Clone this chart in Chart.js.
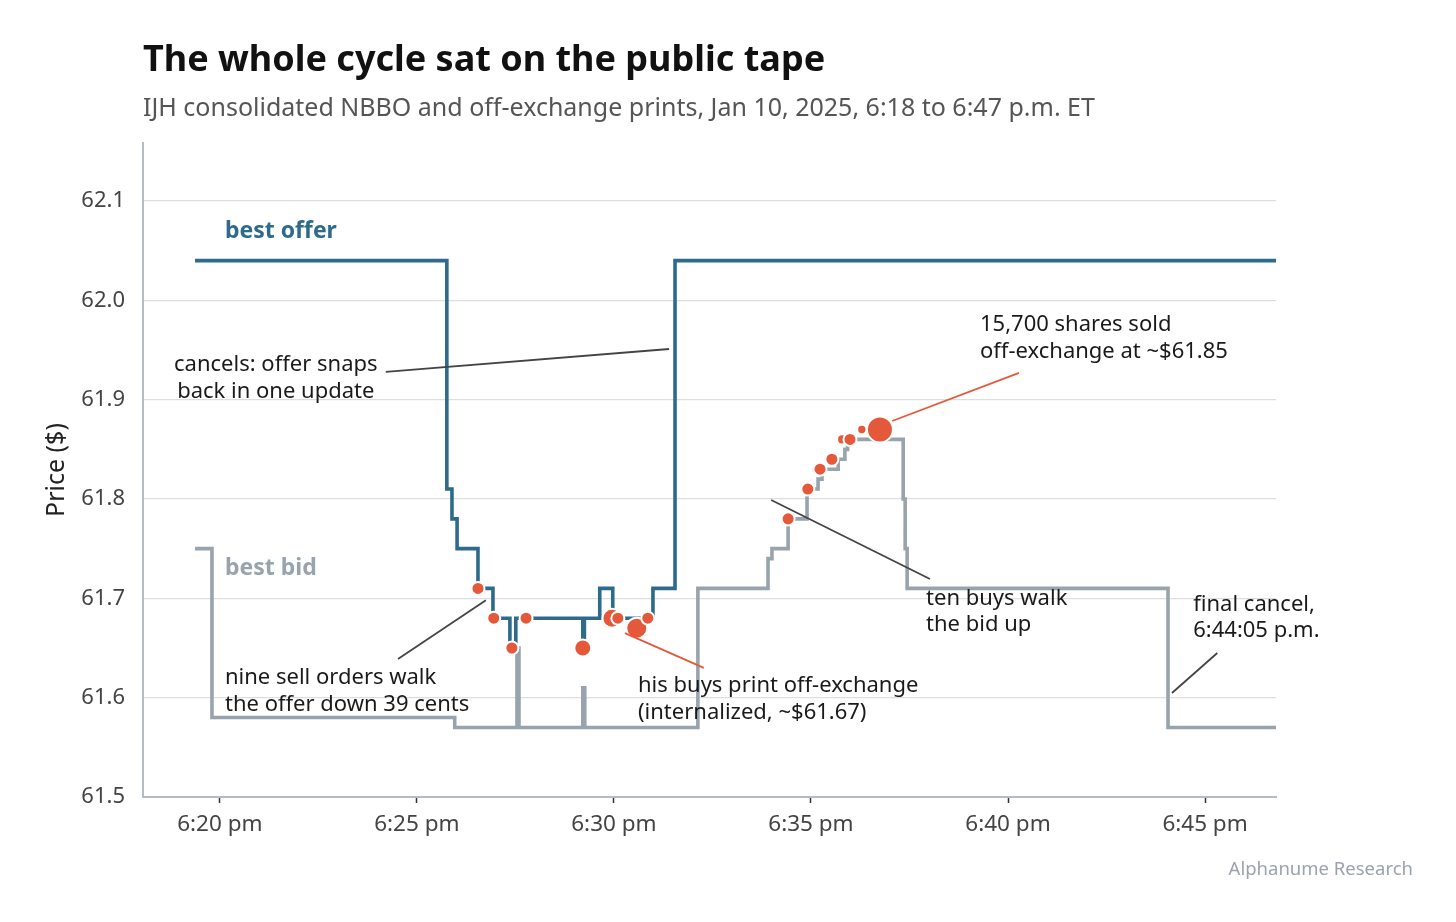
<!DOCTYPE html>
<html>
<head>
<meta charset="utf-8">
<script src="https://cdn.jsdelivr.net/npm/chart.js@4.4.1/dist/chart.umd.min.js"></script>
<style>
  html, body { margin: 0; padding: 0; background: #fff; }
  #wrap { width: 1456px; height: 922px; position: relative; }
</style>
</head>
<body>
<div id="wrap"><canvas id="tape"></canvas></div>
<script>
// time is minutes after 6:00 p.m.

var offerTimes  = [19.37, 25.76, 25.89, 26.02, 26.55, 26.93, 27.36, 27.51, 29.21, 29.25, 29.64, 29.97, 30.99, 31.55, 46.8];
var offerPrices = [62.04, 61.81, 61.78, 61.75, 61.71, 61.68, 61.65, 61.68, 61.655, 61.68, 61.71, 61.68, 61.71, 62.04, 62.04];

var bidTimes  = [19.37, 19.80, 25.96, 27.54, 27.59, 29.21, 29.26, 32.13, 33.91, 34.01, 34.42, 34.90, 35.18, 35.28, 35.69, 35.86, 35.93, 37.34, 37.39, 37.44, 44.06, 46.8];
var bidPrices = [61.75, 61.58, 61.57, 61.65, 61.57, 61.61, 61.57, 61.71, 61.74, 61.75, 61.78, 61.81, 61.82, 61.83, 61.84, 61.85, 61.86, 61.80, 61.75, 61.71, 61.57, 61.57];

var printTimes  = [26.55, 26.95, 27.41, 27.77, 29.21, 29.95, 30.10, 30.58, 30.86, 34.42, 34.92, 35.23, 35.53, 35.79, 35.99, 36.29, 36.75];
var printPrices = [61.71, 61.68, 61.65, 61.68, 61.65, 61.68, 61.68, 61.67, 61.68, 61.78, 61.81, 61.83, 61.84, 61.86, 61.86, 61.87, 61.87];
var printShares = [3000, 3000, 3000, 3000, 5800, 7600, 3000, 9600, 3000, 3000, 3000, 3000, 3000, 1500, 3000, 1200, 15700];

var xTicks = [20, 25, 30, 35, 40, 45];
var yTicks = [61.5, 61.6, 61.7, 61.8, 61.9, 62.0, 62.1];

var OFFER = '#2d6a8b';
var BID = '#98a4ad';
var PRINT = '#e4593a';
var INK = '#1a1a1a';

function pts(xs, ys) {
    return xs.map(function (x, i) { return { x: x, y: ys[i] }; });
}

var notes = [
    { text: ['best offer'], x: 20.13, y: 62.069, align: 'left', color: OFFER, bold: true },
    { text: ['best bid'], x: 20.13, y: 61.7305, align: 'left', color: BID, bold: true },
    { text: ['cancels: offer snaps', 'back in one update'], x: 21.42, y: 61.935, align: 'center', color: INK },
    { text: ['nine sell orders walk', 'the offer down 39 cents'], x: 20.13, y: 61.62, align: 'left', color: INK },
    { text: ['his buys print off-exchange', '(internalized, ~$61.67)'], x: 30.61, y: 61.6117, align: 'left', color: INK },
    { text: ['15,700 shares sold', 'off-exchange at ~$61.85'], x: 39.29, y: 61.975, align: 'left', color: INK },
    { text: ['ten buys walk', 'the bid up'], x: 37.92, y: 61.70, align: 'left', color: INK },
    { text: ['final cancel,', '6:44:05 p.m.'], x: 44.70, y: 61.694, align: 'left', color: INK },
];

var leaders = [
    { from: [24.21, 61.928], to: [31.40, 61.951], color: '#444' },
    { from: [24.52, 61.639], to: [26.75, 61.698], color: '#444' },
    { from: [30.28, 61.665], to: [32.28, 61.630], color: PRINT },
    { from: [37.06, 61.8785], to: [40.28, 61.927], color: PRINT },
    { from: [33.99, 61.799], to: [38.02, 61.7195], color: '#444' },
    { from: [44.16, 61.6047], to: [45.31, 61.645], color: '#444' },
];

var FONT = '"Noto Sans", "Open Sans", sans-serif';

var textPlugin = {
    id: 'tapeText',
    afterDatasetsDraw: function (chart) {
        var ctx = chart.ctx;
        var xs = chart.scales.x, ys = chart.scales.y;
        ctx.save();
        leaders.forEach(function (l) {
            ctx.strokeStyle = l.color;
            ctx.lineWidth = 1.8;
            ctx.beginPath();
            ctx.moveTo(xs.getPixelForValue(l.from[0]), ys.getPixelForValue(l.from[1]));
            ctx.lineTo(xs.getPixelForValue(l.to[0]), ys.getPixelForValue(l.to[1]));
            ctx.stroke();
        });
        ctx.textBaseline = 'middle';
        notes.forEach(function (n) {
            ctx.fillStyle = n.color;
            ctx.textAlign = n.align;
            ctx.font = (n.bold ? 'bold 23px ' : '22px ') + FONT;
            var px = xs.getPixelForValue(n.x), py = ys.getPixelForValue(n.y);
            n.text.forEach(function (t, i) {
                ctx.fillText(t, px, py + i * 26.5);
            });
        });
        ctx.restore();
    },
    afterDraw: function (chart) {
        var ctx = chart.ctx;
        ctx.save();
        ctx.textBaseline = 'alphabetic';
        ctx.textAlign = 'left';
        ctx.fillStyle = '#111';
        ctx.font = 'bold 36px ' + FONT;
        ctx.fillText('The whole cycle sat on the public tape', 143, 71);
        ctx.fillStyle = '#555';
        ctx.font = '25px ' + FONT;
        ctx.fillText('IJH consolidated NBBO and off-exchange prints, Jan 10, 2025, 6:18 to 6:47 p.m. ET', 143, 116);
        ctx.textAlign = 'right';
        ctx.fillStyle = '#9aa4ad';
        ctx.font = '18.5px ' + FONT;
        ctx.fillText('Alphanume Research', 1413, 875);
        ctx.restore();
    },
};

var config = {
    type: 'line',
    data: {
        datasets: [
            {
                label: 'prints',
                type: 'scatter',
                data: pts(printTimes, printPrices),
                backgroundColor: PRINT,
                borderColor: '#ffffff',
                borderWidth: 2,
                pointRadius: printShares.map(function (s) { return 1.5 + 11.5 * Math.sqrt(s / 15700); }),
                order: 0,
            },
            {
                label: 'best offer',
                data: pts(offerTimes, offerPrices),
                borderColor: OFFER,
                borderWidth: 3.6,
                stepped: 'before',
                pointRadius: 0,
                order: 1,
            },
            {
                label: 'best bid',
                data: pts(bidTimes, bidPrices),
                borderColor: BID,
                borderWidth: 3.6,
                stepped: 'before',
                pointRadius: 0,
                order: 2,
            },
        ],
    },
    options: {
        responsive: false,
        animation: false,
        layout: {
            padding: { top: 143, left: 0, right: 180, bottom: 65 },
        },
        plugins: {
            legend: { display: false },
            tooltip: { enabled: false },
        },
        scales: {
            x: {
                type: 'linear',
                min: 18.05,
                max: 46.8,
                afterBuildTicks: function (axis) {
                    axis.ticks = xTicks.map(function (v) { return { value: v }; });
                },
                afterFit: function (axis) { axis.height = 60; },
                grid: {
                    drawOnChartArea: false,
                    drawTicks: true,
                    tickLength: 6,
                    tickColor: '#333',
                    tickWidth: 1.5,
                },
                border: { color: '#b3bcc4', width: 2 },
                ticks: {
                    color: '#444',
                    padding: 8,
                    font: { family: FONT, size: 22.5 },
                    callback: function (v) {
                        return '6:' + v + ' pm';
                    },
                },
            },
            y: {
                type: 'linear',
                min: 61.5,
                max: 62.1584,
                afterBuildTicks: function (axis) {
                    axis.ticks = yTicks.map(function (v) { return { value: v }; });
                },
                afterFit: function (axis) { axis.width = 143; },
                grid: {
                    color: '#dcdfe2',
                    lineWidth: 1.3,
                    drawTicks: false,
                },
                border: { color: '#b3bcc4', width: 2 },
                ticks: {
                    color: '#444',
                    padding: 18,
                    font: { family: FONT, size: 22 },
                    callback: function (v) { return v.toFixed(1); },
                },
                title: {
                    display: true,
                    text: 'Price ($)',
                    color: '#222',
                    padding: { top: 42, bottom: 0 },
                    font: { family: FONT, size: 25 },
                },
            },
        },
    },
    plugins: [textPlugin],
};

var canvas = document.getElementById('tape');
canvas.width = 1456;
canvas.height = 922;
var tapeChart = new Chart(canvas, config);
</script>
</body>
</html>
